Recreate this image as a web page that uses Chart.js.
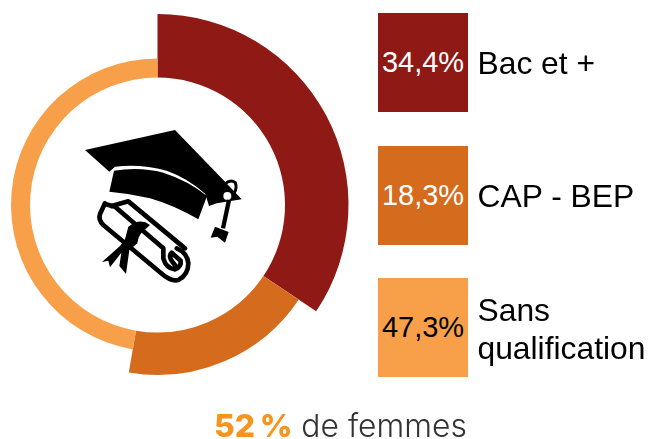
<!DOCTYPE html>
<html lang="fr"><head><meta charset="utf-8">
<script src="https://cdn.jsdelivr.net/npm/chart.js@4"></script>
<style>
html,body{margin:0;padding:0;background:#fff;width:648px;height:439px;overflow:hidden}
#wrap{position:relative;width:648px;height:439px;font-family:"Liberation Sans",Arial,sans-serif}
canvas{position:absolute;left:0;top:0}
svg{position:absolute;left:60px;top:110px}
.sq{position:absolute;left:378px;width:90px;height:99px;display:flex;align-items:center;justify-content:center;font-size:29px;white-space:nowrap}
.lb{position:absolute;left:477.5px;font-size:31.8px;line-height:38px;color:#000;white-space:nowrap}
#foot{position:absolute;left:214px;top:406px;font:300 31.8px/40px Inter,sans-serif;color:#333;white-space:nowrap}
#foot b{font-weight:800;color:#F7941E}
</style></head><body>
<div id="wrap">
<canvas id="c" width="648" height="439"></canvas>
<svg width="200" height="180" viewBox="0 0 600 540" aria-hidden="true">
<path d="M75,120 L345,60 L490,210 L545,268 L470,280 L447,288 L436,252 Q385,205 320,182 Q240,160 165,170 L148,185 Z" fill="#000"/>
<path d="M162,182 Q240,170 310,188 Q385,212 441,258 L415,328 Q340,285 270,265 Q210,250 148,245 Z" fill="#000"/>
<path d="M495,222 Q510,206 526,218 Q532,235 522,250" fill="none" stroke="#000" stroke-width="9"/>
<circle cx="502" cy="258" r="12" fill="#fff"/>
<path d="M507,270 L489,355" stroke="#000" stroke-width="13" fill="none"/>
<path d="M465,350 L506,366 L495,398 L472,380 L452,383 Z" fill="#000"/>
<g fill="none" stroke="#000" stroke-width="14" stroke-linejoin="round" stroke-linecap="round">
<path d="M135,280 L120,312 Q114,330 130,345 L310,495 Q335,515 355,510 Q385,495 385,460 Q382,428 350,415"/>
<path d="M155,288 L205,274 L375,415"/>
<path d="M135,282 L165,290 L310,415 L310,445 Q318,475 345,478 Q365,470 362,452 L335,428 Q322,440 345,465"/>
</g>
<path d="M205,350 Q240,322 270,345 L245,368 Q235,378 232,400 L208,420 L198,492 L178,468 L184,428 L150,472 L145,452 L126,456 L180,408 L195,388 Z" fill="#000"/>
</svg>
<div id="legend"></div>
<div id="foot"><b>52&#8201;%</b> de femmes</div>
</div>
<script>
const categories = ["Bac et +", "CAP - BEP", ["Sans", "qualification"]];
const shares = [34.4, 18.3, 47.3];
const shareLabels = ["34,4%", "18,3%", "47,3%"];
const colors = ["#8E1915", "#D56B1D", "#F7A049"];
const textColors = ["#fff", "#fff", "#000"];
const ringOuter = [191, 170, 146.5];
const ringInner = 127.5;
const squareTops = [13, 146, 278];
const labelTops = [44, 177, 291];

const ringRadii = {
  id: "ringRadii",
  afterDatasetsUpdate(chart) {
    chart.getDatasetMeta(0).data.forEach((arc, i) => {
      arc.innerRadius = ringInner;
      arc.outerRadius = ringOuter[i];
    });
  }
};

new Chart(document.getElementById("c"), {
  type: "doughnut",
  data: { labels: categories.map(c => [].concat(c).join(" ")),
          datasets: [{ data: shares, backgroundColor: colors, borderWidth: 0, clip: false }] },
  options: {
    responsive: false, animation: false, events: [],
    layout: { padding: { left: 0, top: 0, right: 333, bottom: 29 } },
    plugins: { legend: { display: false }, tooltip: { enabled: false } }
  },
  plugins: [ringRadii]
});

const legend = document.getElementById("legend");
categories.forEach((c, i) => {
  const s = document.createElement("div");
  s.className = "sq"; s.textContent = shareLabels[i];
  s.style.top = squareTops[i] + "px"; s.style.background = colors[i]; s.style.color = textColors[i];
  legend.appendChild(s);
  const l = document.createElement("div");
  l.className = "lb"; l.innerHTML = [].concat(c).join("<br>");
  l.style.top = labelTops[i] + "px";
  legend.appendChild(l);
});
</script>
</body></html>
